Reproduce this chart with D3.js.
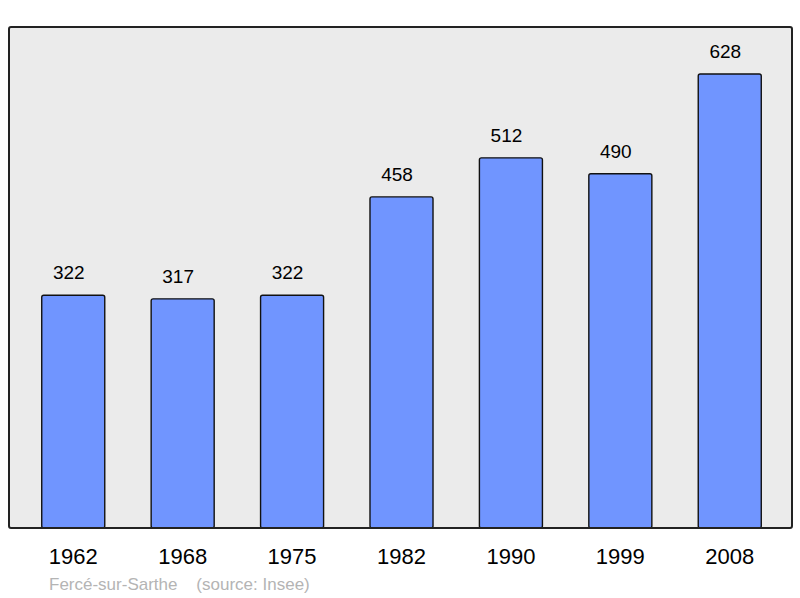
<!DOCTYPE html>
<html>
<head>
<meta charset="utf-8">
<script src="https://cdn.jsdelivr.net/npm/d3@7"></script>
<style>
  body { margin: 0; background: #fff; }
  text { font-family: "Liberation Sans", Arial, sans-serif; }
</style>
</head>
<body>
<svg id="chart"></svg>
<script>
// données
const years = ["1962", "1968", "1975", "1982", "1990", "1999", "2008"];
const population = [322, 317, 322, 458, 512, 490, 628];
const commune = "Fercé-sur-Sarthe";
const source = "(source: Insee)";

var width = 800, height = 598;
var plot = {left: 9, top: 27, right: 792, bottom: 528};

const svg = d3.select("#chart")
  .attr("width", width)
  .attr("height", height);

// fond du graphique
svg.append("rect")
  .attr("x", plot.left)
  .attr("y", plot.top)
  .attr("width", plot.right - plot.left)
  .attr("height", plot.bottom - plot.top)
  .attr("rx", 2)
  .attr("fill", "#ebebeb");

const x = d3.scaleBand()
  .domain(years)
  .range([plot.left + 1, plot.right + 1])
  .paddingInner(0.424)
  .paddingOuter(0.29);

const y = d3.scaleLinear()
  .domain([0, 693])
  .range([plot.bottom, plot.top]);

const data = years.map((d, i) => ({year: d, value: population[i]}));

// barres
svg.selectAll("rect.bar")
  .data(data)
  .enter()
  .append("rect")
  .attr("class", "bar")
  .attr("x", d => x(d.year))
  .attr("y", d => y(d.value))
  .attr("width", x.bandwidth())
  .attr("height", d => y(0) - y(d.value))
  .attr("rx", 2)
  .attr("fill", "#7095ff")
  .attr("stroke", "#111")
  .attr("stroke-width", 1.4);

// valeurs (légèrement décalées à gauche comme l'original)
svg.selectAll("text.val")
  .data(data)
  .enter()
  .append("text")
  .attr("class", "val")
  .attr("x", d => x(d.year) + x.bandwidth() / 2 - 4.5)
  .attr("y", d => y(d.value) - 16)
  .attr("text-anchor", "middle")
  .attr("font-size", 19)
  .attr("fill", "#000")
  .text(d => d.value);

// cadre
svg.append("rect")
  .attr("x", plot.left)
  .attr("y", plot.top)
  .attr("width", plot.right - plot.left)
  .attr("height", plot.bottom - plot.top)
  .attr("rx", 2)
  .attr("fill", "none")
  .attr("stroke", "#222")
  .attr("stroke-width", 2);

// axe des années
const xAxis = svg.append("g")
  .attr("transform", "translate(0," + plot.bottom + ")")
  .call(d3.axisBottom(x).tickSize(0).tickPadding(20));
xAxis.select(".domain").remove();
xAxis.selectAll("text")
  .attr("font-size", 22)
  .attr("font-family", "Liberation Sans, Arial, sans-serif")
  .attr("fill", "#000");

// source
svg.append("text")
  .attr("x", 49)
  .attr("y", 590)
  .attr("font-size", 17)
  .attr("fill", "#b4b4b4")
  .attr("xml:space", "preserve")
  .text(commune + "    " + source);
</script>
</body>
</html>
